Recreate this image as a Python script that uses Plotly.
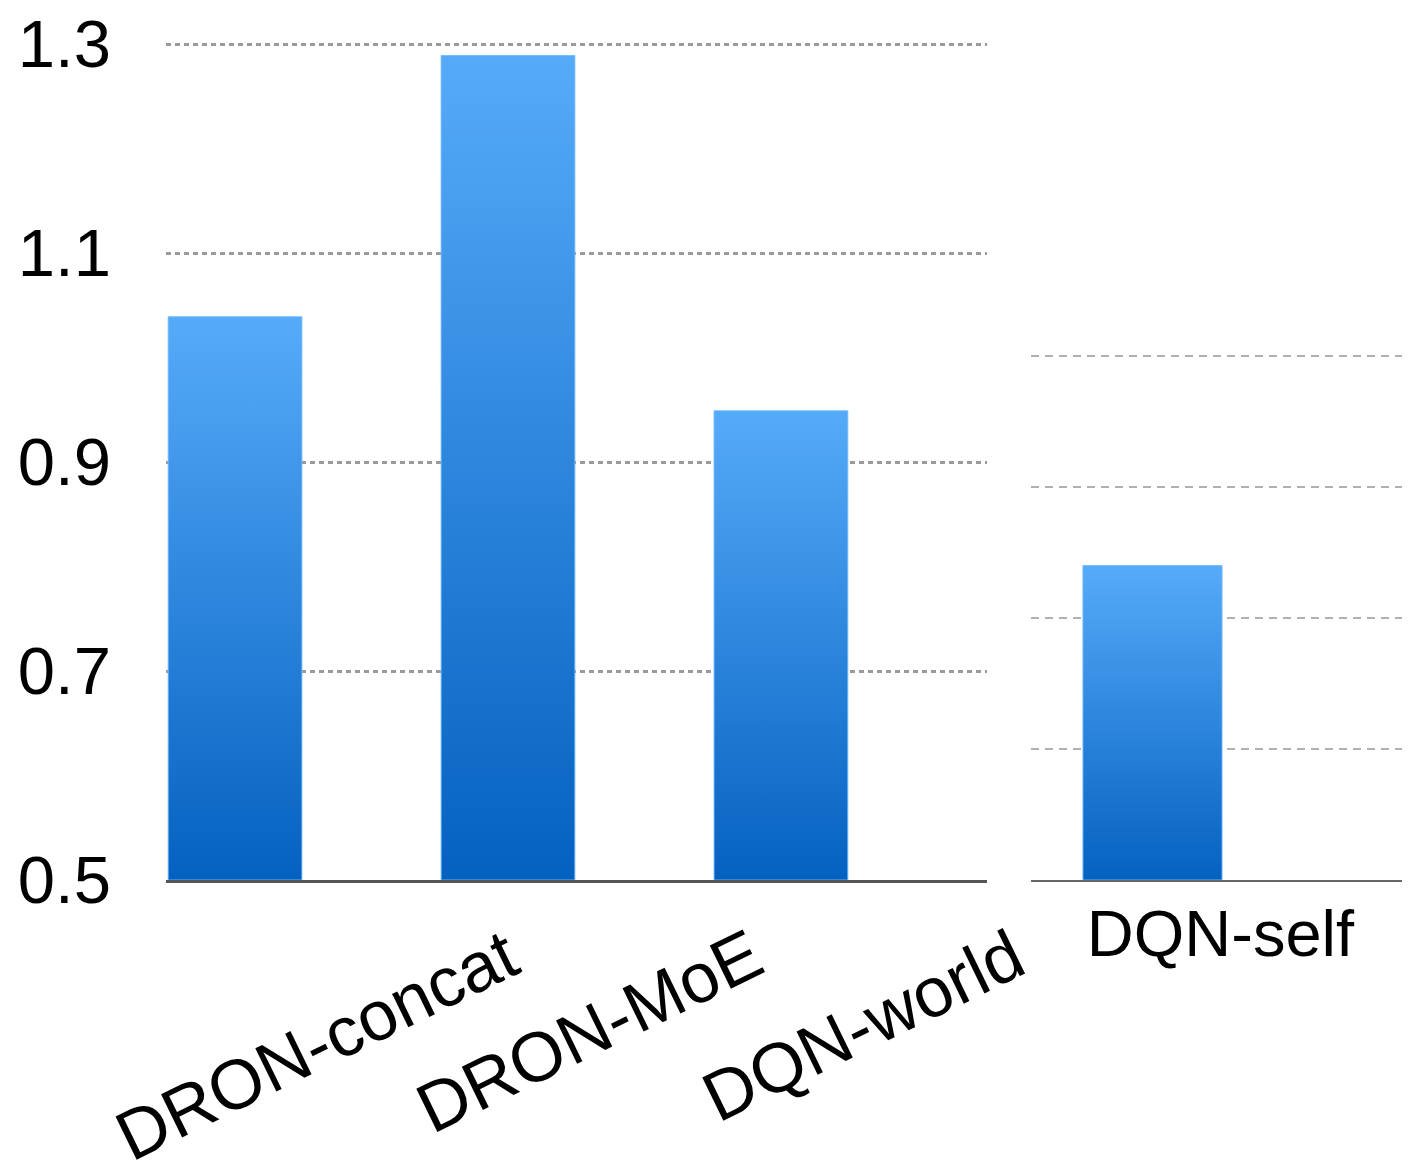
import plotly.graph_objects as go

# ---- data ----
main_categories = ["DRON-concat", "DRON-MoE", "DQN-world"]
main_values = [1.039, 1.289, 0.949]
main_ticks = [0.5, 0.7, 0.9, 1.1, 1.3]
main_ticktext = ["0.5", "0.7", "0.9", "1.1", "1.3"]

side_categories = ["DQN-self"]
side_values = [0.74]
side_grid = [0.6, 0.7, 0.8, 0.9]

BASE = 0.5
HALF_W = 0.245
TOP_COLOR = "#56abf9"
BOTTOM_COLOR = "#0561c0"

fig = go.Figure()


def add_bars(cats, vals, xref, yref):
    for i, (c, v) in enumerate(zip(cats, vals)):
        fig.add_trace(go.Scatter(
            x=[i - HALF_W, i + HALF_W, i + HALF_W, i - HALF_W, i - HALF_W],
            y=[BASE, BASE, v, v, BASE],
            mode="lines",
            fill="toself",
            fillgradient=dict(type="vertical",
                              colorscale=[[0, BOTTOM_COLOR], [1, TOP_COLOR]]),
            line=dict(width=1, color="rgba(110,185,255,0.9)"),
            name=c,
            hoverinfo="name+y",
            xaxis=xref, yaxis=yref,
        ))


add_bars(main_categories, main_values, "x", "y")
add_bars(side_categories, side_values, "x2", "y2")

W, H = 1408, 1167
ybot = (H - 880) / H

# rotated category labels for the main panel (offset to the right, as in the original)
LABEL_SHIFT = 0.30
for i, c in enumerate(main_categories):
    fig.add_annotation(
        x=i + LABEL_SHIFT, xref="x", y=1 - 912 / H, yref="paper",
        text=c, showarrow=False, textangle=-26,
        xanchor="center", yanchor="top",
        font=dict(size=70, color="black",
                  family="Liberation Sans, Arial, sans-serif"),
    )

fig.update_layout(
    width=W, height=H,
    margin=dict(l=0, r=0, t=0, b=0),
    paper_bgcolor="white", plot_bgcolor="white",
    showlegend=False,
    font=dict(family="Liberation Sans, Arial, sans-serif", color="black"),
    xaxis=dict(
        domain=[166 / W, 987 / W], range=[-0.253, 2.755],
        tickvals=list(range(len(main_categories))), showticklabels=False,
        ticks="", automargin=False,
        showline=True, linecolor="#555555", linewidth=3,
        showgrid=False, zeroline=False, anchor="y", fixedrange=True,
    ),
    yaxis=dict(
        domain=[ybot, 1 - 30 / H], range=[BASE, BASE + 850 / 1045],
        tickvals=main_ticks, ticktext=main_ticktext, automargin=False,
        tickfont=dict(size=67), ticks="", ticklabelstandoff=54,
        showgrid=True, gridcolor="#9a9a9a", gridwidth=2.5, griddash="5px,4px",
        zeroline=False, showline=False, anchor="x",
    ),
    xaxis2=dict(
        domain=[1031 / W, 1402 / W], range=[-0.428, 0.879],
        tickvals=list(range(len(side_categories))), ticktext=side_categories,
        tickangle=0, ticklabelshift=68, ticklabelstandoff=-4,
        tickfont=dict(size=65), ticks="", automargin=False,
        showline=True, linecolor="#666666", linewidth=2,
        showgrid=False, zeroline=False, anchor="y2",
    ),
    yaxis2=dict(
        domain=[ybot, 1 - 320 / H], range=[BASE, BASE + 560 / 1310],
        tickvals=side_grid, showticklabels=False, ticks="", automargin=False,
        showgrid=True, gridcolor="#b0b0b0", gridwidth=2, griddash="8px,6px",
        zeroline=False, showline=False, anchor="x2",
    ),
)

fig.write_html("out.html")
